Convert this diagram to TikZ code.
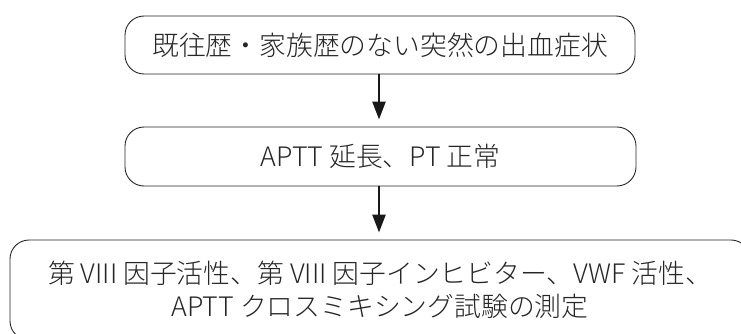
\documentclass[tikz,border=0pt]{standalone}
\usepackage{fontspec}
\newfontfamily\jp{Noto Sans CJK JP}[UprightFont={* Light}]
\usetikzlibrary{arrows.meta}
\begin{document}
\begin{tikzpicture}[x=1pt,y=-1pt,
  flowbox/.style={draw=black!85, line width=0.9pt, rounded corners=19pt, inner sep=0pt,
    font=\jp\fontsize{26.8}{33}\selectfont, text=black!85, align=center},
  flowarrow/.style={draw=black!90, line width=2.6pt, -{Triangle[width=13pt,length=18pt]}, shorten >=7pt}
]
\useasboundingbox (0,0) rectangle (741,334);
\node[flowbox, minimum width=510pt, minimum height=58pt] (b1) at (380,45) {既往歴・家族歴のない突然の出血症状};
\node[flowbox, minimum width=511pt, minimum height=59pt] (b2) at (380.5,156.5) {APTT 延長、PT 正常};
\node[flowbox, minimum width=740pt, minimum height=100pt] (b3) at (380,290) {第 VIII 因子活性、第 VIII 因子インヒビター、VWF 活性、\\APTT クロスミキシング試験の測定};
\draw[flowarrow] (b1.south -| 379,0) -- (b2.north -| 379,0);
\draw[flowarrow] (b2.south -| 379,0) -- (b3.north -| 379,0);
\end{tikzpicture}
\end{document}
